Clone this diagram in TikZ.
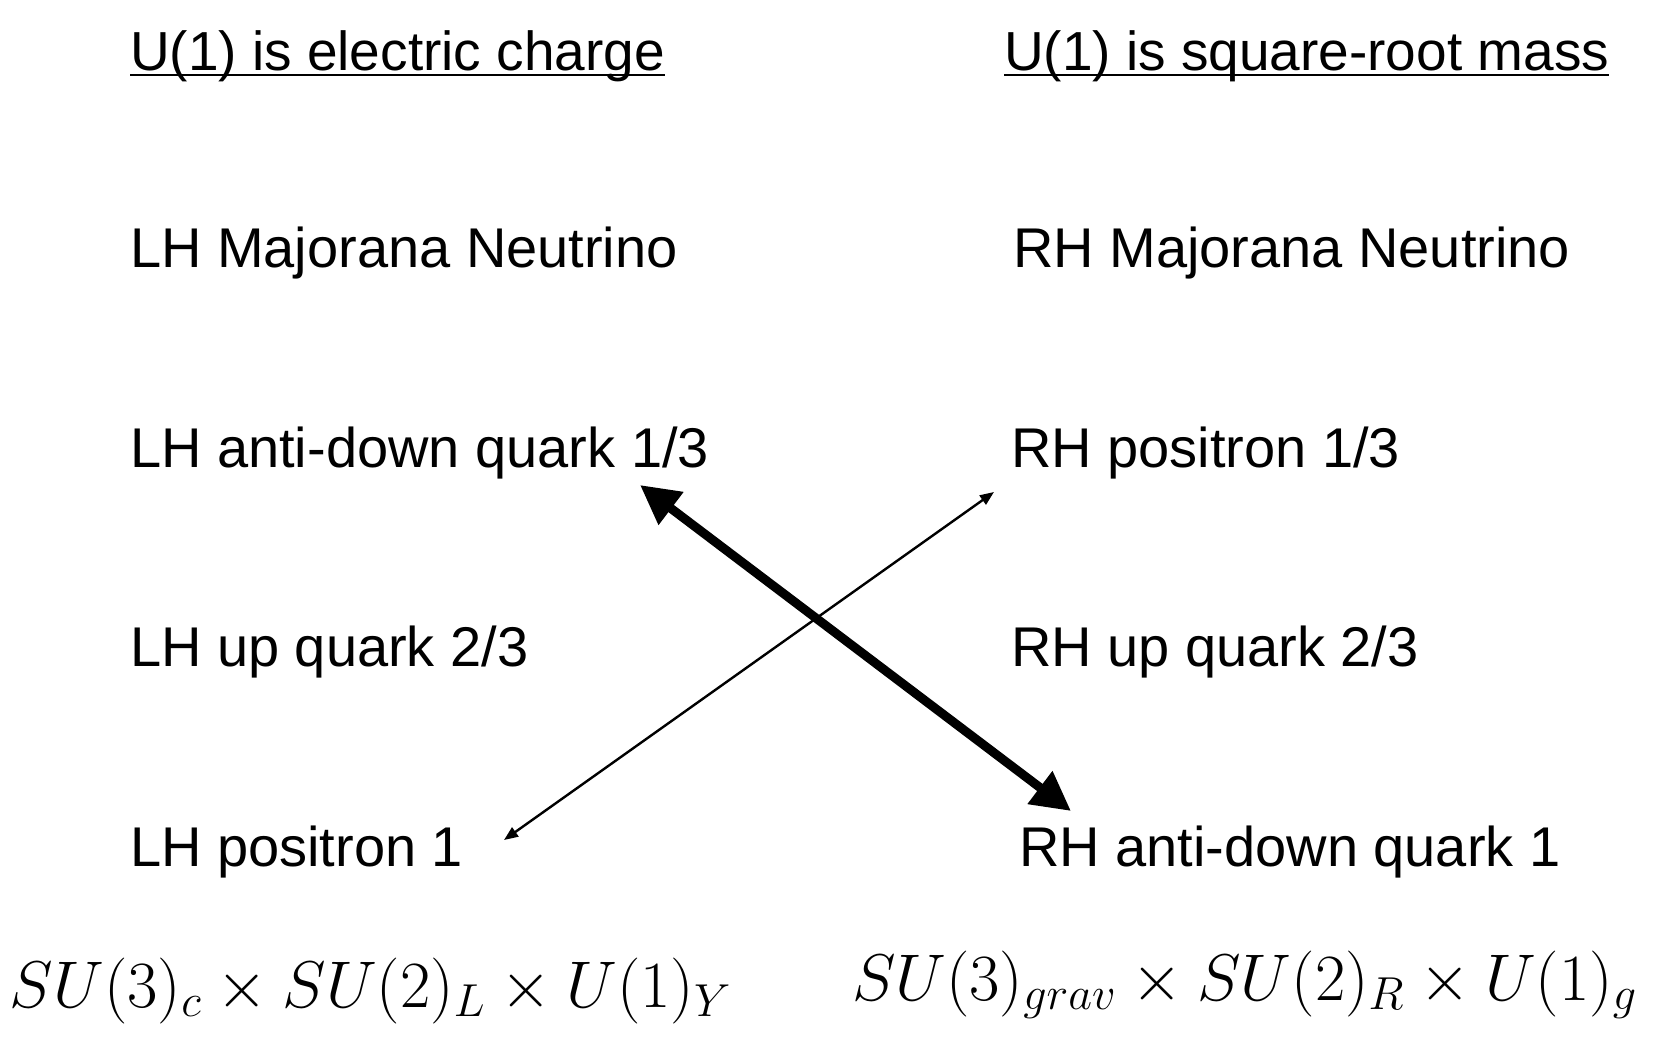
\RequirePackage{fix-cm}
\documentclass[tikz,border=0pt]{standalone}
\usepackage{fontspec}
\setmainfont{Liberation Sans}
\usetikzlibrary{arrows.meta}
\begin{document}
\begin{tikzpicture}[x=0.5pt,y=-0.5pt,
  every node/.style={inner sep=0pt, outer sep=0pt},
  lbl/.style={anchor=base west, font=\fontsize{28}{33}\selectfont},
  head/.style={anchor=base west, font=\fontsize{27.5}{33}\selectfont},
  frm/.style={anchor=base west, font=\fontsize{33}{40}\selectfont},
  uline/.style={line width=1pt},
  thickarrow/.style={line width=4.5pt, {Triangle[length=19.5pt,width=19.5pt]}-{Triangle[length=19.5pt,width=19.5pt]}},
  thinarrow/.style={line width=1.2pt, {Triangle[length=7pt,width=5.5pt]}-{Triangle[length=7pt,width=5.5pt]}}]
\useasboundingbox (0,0) rectangle (1669,1043);
% headings
\node[head] (hl) at (130,71) {U(1) is electric charge};
\node[head] (hr) at (1004,71) {U(1) is square-root mass};
\draw[uline] ([yshift=-2pt]hl.base west) -- ([yshift=-2pt]hl.base east);
\draw[uline] ([yshift=-2pt]hr.base west) -- ([yshift=-2pt]hr.base east);
% left column
\node[lbl] (l1) at (130,268) {LH Majorana Neutrino};
\node[lbl] (l2) at (130,467) {LH anti-down quark 1/3};
\node[lbl] (l3) at (130,666) {LH up quark 2/3};
\node[lbl] (l4) at (130,866) {LH positron 1};
% right column
\node[lbl] (r1) at (1013,268) {RH Majorana Neutrino};
\node[lbl] (r2) at (1011,467) {RH positron 1/3};
\node[lbl] (r3) at (1011,666) {RH up quark 2/3};
\node[lbl] (r4) at (1019,866) {RH anti-down quark 1};
% formulas
\node[frm] (fl) at (10,1007) {$SU(3)_c\times SU(2)_L\times U(1)_Y$};
\node[frm] (fr) at (852,1000) {$SU(3)_{grav}\times SU(2)_R\times U(1)_g$};
% arrows
\coordinate (ta) at (640,485);
\coordinate (tb) at (1071,811);
\coordinate (na) at (504,840);
\coordinate (nb) at (994,492);
\draw[thinarrow] (na) -- (nb);
\draw[thickarrow] (ta) -- (tb);
\end{tikzpicture}
\end{document}
